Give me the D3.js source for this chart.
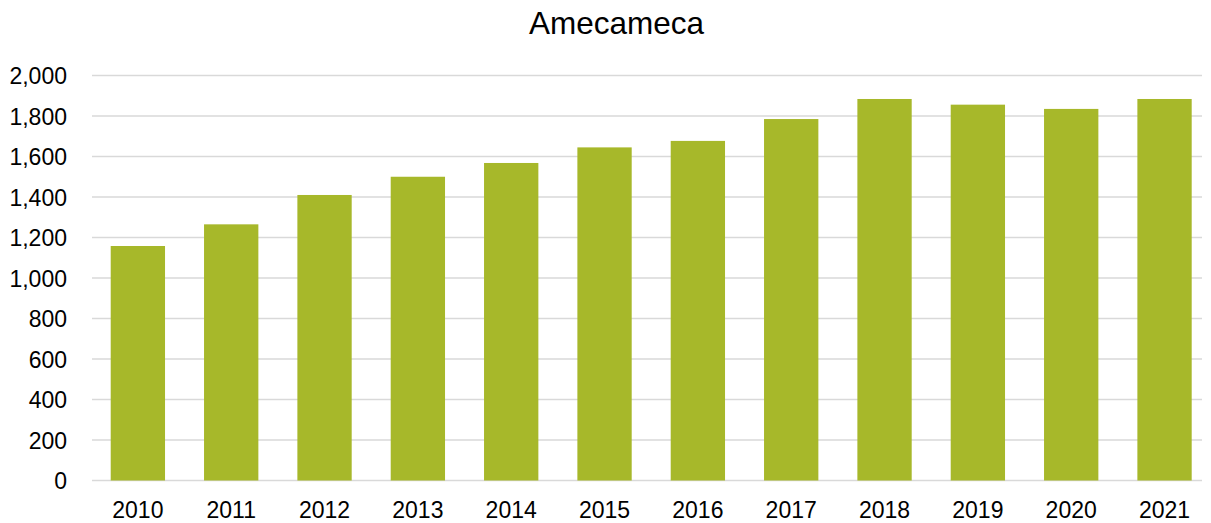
<!DOCTYPE html>
<html>
<head>
<meta charset="utf-8">
<script src="https://cdn.jsdelivr.net/npm/d3@7"></script>
<style>
  body { margin: 0; background: #fff; }
  svg text { font-family: "Liberation Sans", Arial, sans-serif; fill: #000; }
</style>
</head>
<body>
<div id="chart"></div>
<script>
// Datos
const years = ['2010', '2011', '2012', '2013', '2014', '2015', '2016', '2017', '2018', '2019', '2020', '2021'];
const values = [1158, 1265, 1410, 1500, 1568, 1645, 1677, 1785, 1884, 1856, 1835, 1884];
const yTicks = [0, 200, 400, 600, 800, 1000, 1200, 1400, 1600, 1800, 2000];
const title = 'Amecameca';

const width = 1211;
const height = 523;
const margin = { top: 75.5, bottom: 42.5, left: 92 };
const gridRight = 1202;

const chart = d3.select('#chart')
    .append('svg')
    .attr('width', width)
    .attr('height', height);

const x = d3.scaleBand()
    .domain(years)
    .range([91.2, 1211.2])
    .paddingInner(0.418)
    .paddingOuter(0.209);

const y = d3.scaleLinear()
    .domain([0, 2000])
    .range([height - margin.bottom, margin.top]);

// Grid lines
chart.append('g')
    .selectAll('line')
    .data(yTicks)
    .join('line')
    .attr('x1', margin.left)
    .attr('x2', gridRight)
    .attr('y1', d => y(d))
    .attr('y2', d => y(d))
    .attr('stroke', '#d9d9d9')
    .attr('stroke-width', 1.5);

// Bars
chart.append('g')
    .selectAll('rect')
    .data(values)
    .join('rect')
    .attr('x', (d, i) => x(years[i]))
    .attr('y', d => y(d))
    .attr('width', x.bandwidth())
    .attr('height', d => y(0) - y(d))
    .attr('fill', '#a7b82a');

// Y axis
const yAxis = chart.append('g')
    .attr('transform', `translate(${margin.left - 25},0)`)
    .call(d3.axisLeft(y).tickValues(yTicks).tickSize(0).tickPadding(0).tickFormat(d3.format(',')));
yAxis.select('.domain').remove();
yAxis.selectAll('text').attr('font-size', 23).attr('dy', '0.35em');

// X axis
const xAxis = chart.append('g')
    .attr('transform', `translate(0,${y(0)})`)
    .call(d3.axisBottom(x).tickSize(0).tickPadding(21));
xAxis.select('.domain').remove();
xAxis.selectAll('text').attr('font-size', 23);

// Title
chart.append('text')
    .attr('x', 616.5)
    .attr('y', 34)
    .attr('text-anchor', 'middle')
    .attr('font-size', 31.5)
    .text(title);
</script>
</body>
</html>
